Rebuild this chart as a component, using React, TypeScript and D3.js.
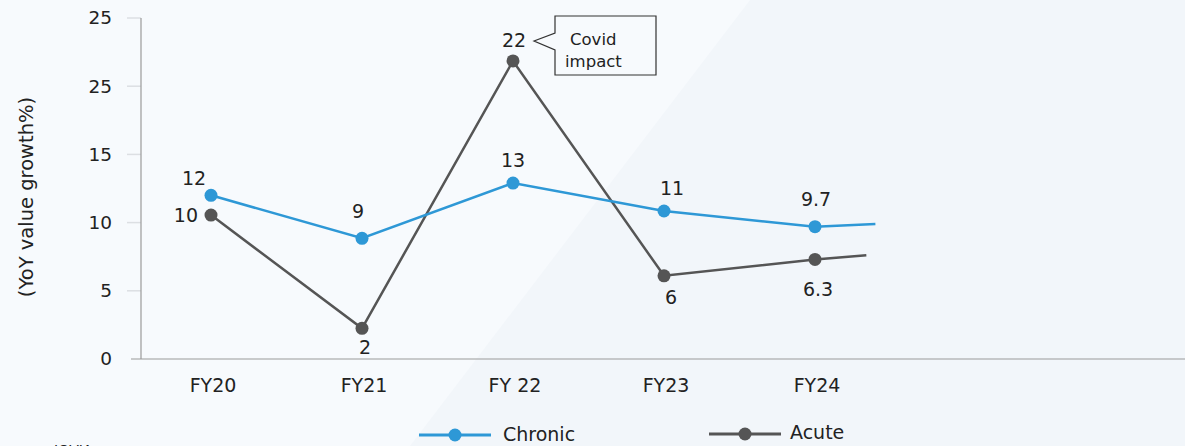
import React from "react";
import * as d3 from "d3";

const categories = ["FY20", "FY21", "FY 22", "FY23", "FY24"];
const chronicValues = [12.0, 8.85, 12.9, 10.85, 9.7];
const chronicLabels = ["12", "9", "13", "11", "9.7"];
const chronicTail = 9.9;
const acuteValues = [10.55, 2.25, 21.85, 6.1, 7.3];
const acuteLabels = ["10", "2", "22", "6", "6.3"];
const acuteTail = 7.6;
const yTickValues = [0, 5, 10, 15, 20, 25];
const yTickLabels = ["0", "5", "10", "15", "25", "25"];

const W = 1185;
const H = 446;
const FONT = "'DejaVu Sans', 'Open Sans', sans-serif";
const BLUE = "#2e98d6";
const GRAY = "#555555";
const TXT = "#222";

export default function App() {
  const x = d3.scaleLinear().domain([0, 4]).range([211, 815]);
  const y = d3.scaleLinear().domain([0, 25]).range([359, 18]);

  const chronicPts: [number, number][] = chronicValues.map((v, i) => [i, v]);
  chronicPts.push([4.4, chronicTail]);
  const acutePts: [number, number][] = acuteValues.map((v, i) => [i, v]);
  acutePts.push([4.34, acuteTail]);

  const line = d3
    .line<[number, number]>()
    .x((d) => x(d[0]))
    .y((d) => y(d[1]));

  const acuteLabelPos: { dx: number; dy: number; anchor: string }[] = [
    { dx: -13, dy: 0, anchor: "end" },
    { dx: 3, dy: 19, anchor: "middle" },
    { dx: 1, dy: -21, anchor: "middle" },
    { dx: 7, dy: 22, anchor: "middle" },
    { dx: 3, dy: 30, anchor: "middle" },
  ];
  const chronicLabelPos: { dx: number; dy: number; anchor: string }[] = [
    { dx: -17, dy: -17, anchor: "middle" },
    { dx: -4, dy: -27, anchor: "middle" },
    { dx: 0, dy: -23, anchor: "middle" },
    { dx: 8, dy: -23, anchor: "middle" },
    { dx: 1, dy: -27, anchor: "middle" },
  ];

  const calloutX = 555;
  const calloutY = 16;

  return (
    <svg
      width={W}
      height={H}
      style={{ position: "absolute", left: 0, top: 0, display: "block" }}
      fontFamily={FONT}
    >
      <rect x={0} y={0} width={W} height={H} fill="#f2f6fa" />
      <polygon points={`0,0 750,0 410,${H} 0,${H}`} fill="#f7fafd" />

      {/* y ticks */}
      {yTickValues.map((v, i) => (
        <g key={"yt" + i}>
          {v > 0 && (
            <line x1={127} x2={141} y1={y(v)} y2={y(v)} stroke="#dcdfe3" strokeWidth={1.5} />
          )}
          <text
            x={112}
            y={y(v)}
            dy="0.35em"
            textAnchor="end"
            fontSize={18.5}
            fill={TXT}
          >
            {yTickLabels[i]}
          </text>
        </g>
      ))}
      <line x1={141} x2={141} y1={y(25)} y2={y(0)} stroke="#9a9a9a" strokeWidth={1.2} />
      <line x1={131} x2={W} y1={y(0)} y2={y(0)} stroke="#9a9a9a" strokeWidth={1.2} />

      {/* x labels */}
      {categories.map((c, i) => (
        <text key={c} x={x(i) + 2} y={392} textAnchor="middle" fontSize={19} fill={TXT}>
          {c}
        </text>
      ))}

      {/* y title */}
      <text
        transform={`translate(33, 197) rotate(-90)`}
        textAnchor="middle"
        fontSize={19.5}
        fill={TXT}
      >
        (YoY value growth%)
      </text>

      {/* lines */}
      <path d={line(acutePts) || ""} fill="none" stroke={GRAY} strokeWidth={2.5} />
      <path d={line(chronicPts) || ""} fill="none" stroke={BLUE} strokeWidth={2.5} />

      {acuteValues.map((v, i) => (
        <circle key={"ac" + i} cx={x(i)} cy={y(v)} r={6.5} fill={GRAY} />
      ))}
      {chronicValues.map((v, i) => (
        <circle key={"cc" + i} cx={x(i)} cy={y(v)} r={6.5} fill={BLUE} />
      ))}

      {acuteValues.map((v, i) => (
        <text
          key={"al" + i}
          x={x(i) + acuteLabelPos[i].dx}
          y={y(v) + acuteLabelPos[i].dy}
          dy="0.35em"
          textAnchor={acuteLabelPos[i].anchor as any}
          fontSize={19}
          fill={TXT}
        >
          {acuteLabels[i]}
        </text>
      ))}
      {chronicValues.map((v, i) => (
        <text
          key={"cl" + i}
          x={x(i) + chronicLabelPos[i].dx}
          y={y(v) + chronicLabelPos[i].dy}
          dy="0.35em"
          textAnchor={chronicLabelPos[i].anchor as any}
          fontSize={19}
          fill={TXT}
        >
          {chronicLabels[i]}
        </text>
      ))}

      {/* callout */}
      <path
        d={`M${calloutX},${calloutY} H${calloutX + 101} V${calloutY + 59} H${calloutX} V${calloutY + 34} L${calloutX - 21},${calloutY + 25} L${calloutX},${calloutY + 17} Z`}
        fill="#f7fafd"
        stroke="#333"
        strokeWidth={1.2}
      />
      <text x={calloutX + 15} y={calloutY + 29} fontSize={16.5} fill={TXT}>
        Covid
      </text>
      <text x={calloutX + 10} y={calloutY + 51} fontSize={16.5} fill={TXT}>
        impact
      </text>

      {/* legend */}
      <g>
        <line x1={419} x2={491} y1={435} y2={435} stroke={BLUE} strokeWidth={3} />
        <circle cx={455} cy={435} r={6.5} fill={BLUE} />
        <text x={503} y={439} dy="0.1em" fontSize={19} fill={TXT}>
          Chronic
        </text>
        <line x1={709} x2={781} y1={434} y2={434} stroke={GRAY} strokeWidth={3} />
        <circle cx={745} cy={434} r={6.5} fill={GRAY} />
        <text x={790} y={437} dy="0.1em" fontSize={19} fill={TXT}>
          Acute
        </text>
      </g>

      <text x={54} y={455} fontSize={14} fill={TXT}>
        IQVIA
      </text>
    </svg>
  );
}
